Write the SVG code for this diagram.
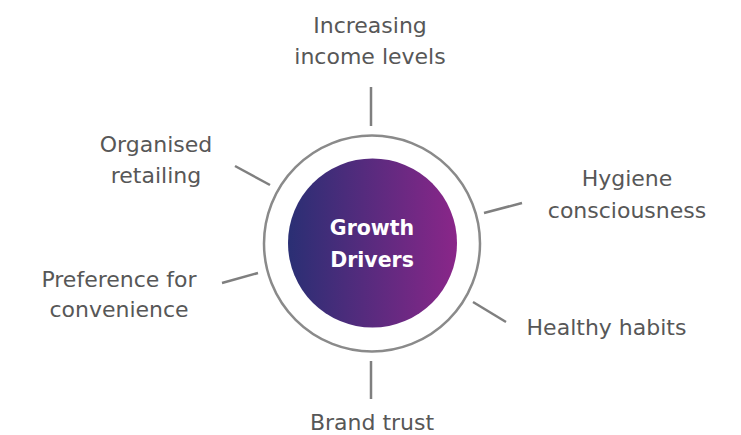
<svg xmlns="http://www.w3.org/2000/svg" width="741" height="435" viewBox="0 0 741 435">
<defs>
<linearGradient id="g" x1="0" y1="0" x2="1" y2="0">
<stop offset="0" stop-color="#2a2f74"/>
<stop offset="1" stop-color="#8a2689"/>
</linearGradient>
</defs>
<style>
.lbl{font-family:"DejaVu Sans","Noto Sans",sans-serif;font-size:22px;fill:#575757;text-anchor:middle}
.ctr{font-family:"DejaVu Sans","Noto Sans",sans-serif;font-size:20.5px;font-weight:bold;fill:#fff;text-anchor:middle}
.con line{stroke:#7f7f7f;stroke-width:2.5;stroke-linecap:butt}
</style>
<rect width="741" height="435" fill="#fff"/>
<g id="center">
<circle cx="372" cy="243.5" r="108" fill="none" stroke="#8a8a8a" stroke-width="2.5"/>
<circle cx="372.5" cy="243" r="84.5" fill="url(#g)"/>
<text class="ctr" x="372" y="235">Growth</text>
<text class="ctr" x="372" y="267">Drivers</text>
</g>
<g id="connectors" class="con">
<line x1="371" y1="87" x2="371" y2="126"/>
<line x1="371" y1="361" x2="371" y2="399"/>
<line x1="235" y1="166" x2="270" y2="185"/>
<line x1="222" y1="283" x2="258" y2="273"/>
<line x1="484" y1="213" x2="522" y2="203"/>
<line x1="473" y1="302" x2="506" y2="322"/>
</g>
<g id="n-income">
<text class="lbl" x="370" y="33">Increasing</text>
<text class="lbl" x="370" y="64">income levels</text>
</g>
<g id="n-organised">
<text class="lbl" x="156" y="152">Organised</text>
<text class="lbl" x="156" y="183">retailing</text>
</g>
<g id="n-preference">
<text class="lbl" x="119" y="287">Preference for</text>
<text class="lbl" x="119" y="317">convenience</text>
</g>
<g id="n-hygiene">
<text class="lbl" x="627" y="186">Hygiene</text>
<text class="lbl" x="627" y="218">consciousness</text>
</g>
<g id="n-healthy">
<text class="lbl" x="606.5" y="335">Healthy habits</text>
</g>
<g id="n-brand">
<text class="lbl" x="372" y="430">Brand trust</text>
</g>
</svg>
